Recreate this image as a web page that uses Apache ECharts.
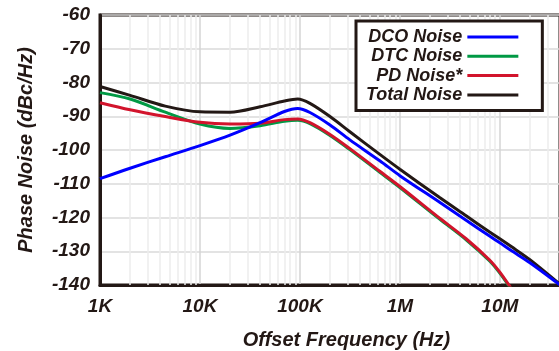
<!DOCTYPE html>
<html><head><meta charset="utf-8">
<script src="https://cdn.jsdelivr.net/npm/echarts@6/dist/echarts.min.js"></script>
<style>html,body{margin:0;padding:0;background:#fff;overflow:hidden;}#c{width:559px;height:351px;}</style>
</head><body><div id="c"></div>
<script>
// Offset frequencies (Hz)
const freqs = [1e3, 2e3, 4.5e3, 1e4, 2e4, 4e4, 7e4, 9.5e4, 1.26e5, 2e5, 3.16e5, 6.3e5, 1e6, 2.5e6, 4.6e6, 7.9e6, 1e7, 1.3e7, 2e7, 4e7];
// Phase noise (dBc/Hz)
const dcoNoise   = [-108.5, -105.4, -102.0, -98.7, -95.6, -91.9, -88.6, -87.7, -88.9, -92.6, -97.0, -103.2, -107.6, -115.5, -120.8, -125.5, -127.5, -129.8, -133.4, -140.0];
const dtcNoise   = [-83.0, -84.9, -88.8, -92.3, -93.6, -92.8, -91.5, -91.2, -92.2, -95.7, -99.9, -106.6, -111.1, -120.5, -126.6, -132.9, -136.5, -141.3, null, null];
const pdNoise    = [-86.0, -88.1, -90.1, -91.8, -92.3, -92.1, -91.0, -90.8, -91.9, -95.4, -99.6, -106.3, -110.8, -120.2, -126.3, -132.6, -136.2, -141.0, null, null];
const totalNoise = [-81.2, -83.8, -87.0, -88.7, -88.8, -87.2, -85.5, -84.9, -86.2, -90.1, -94.6, -101.3, -105.7, -114.1, -119.5, -124.3, -126.3, -128.6, -132.5, -139.8];
const seriesNames = ['DCO Noise', 'DTC Noise', 'PD Noise*', 'Total Noise'];
const seriesColors = ['#0000ff', '#009944', '#d2142c', '#231815'];
const xTickLabels = ['1K', '10K', '100K', '1M', '10M']; // 1e3 .. 1e7
const xMin = 1e3, xMax = 4e7;
const yMin = -140, yMax = -60, yStep = 10;

const minorGridFreqs = [];
for (let d = 3; d <= 7; d++) for (let m = 2; m <= 9; m++) {
  const f = m * Math.pow(10, d);
  if (f < xMax) minorGridFreqs.push(f);
}

const font = 'Liberation Sans, Arial, sans-serif';
const ink = '#231815';
const toPairs = arr => freqs.map((f, i) => [f, arr[i]]).filter(p => p[1] !== null);
const valueSets = [dcoNoise, dtcNoise, pdNoise, totalNoise];
const zOrder = [6, 3, 4, 5];

const series = valueSets.map((vals, i) => ({
  name: seriesNames[i],
  type: 'line',
  data: toPairs(vals),
  smooth: 0.3,
  symbol: 'none',
  clip: true,
  z: zOrder[i],
  lineStyle: { color: seriesColors[i], width: 3, type: 'solid' },
  itemStyle: { color: seriesColors[i] }
}));
series.push({
  name: 'minorGrid', type: 'line', data: [], z: 1, silent: true,
  markLine: {
    z: 1, silent: true, symbol: 'none', label: { show: false },
    lineStyle: { color: '#ececec', width: 1.5, type: 'solid' },
    data: minorGridFreqs.map(f => ({ xAxis: f }))
  }
});

const chart = echarts.init(document.getElementById('c'), null, { renderer: 'canvas' });
chart.setOption({
  animation: false,
  backgroundColor: '#fff',
  grid: { left: 100, top: 15, width: 460, height: 270, outerBoundsMode: 'none', containLabel: false, show: true, borderColor: ink, borderWidth: 3, backgroundColor: 'transparent' },
  legend: {
    z: 20,
    data: seriesNames.map((n, i) => ({ name: n, icon: 'rect', itemStyle: { color: seriesColors[i] } })),
    orient: 'vertical',
    align: 'right',
    left: 356, top: 21,
    itemWidth: 51, itemHeight: 3, itemGap: 0.3,
    padding: [6.5, 24, 6, 10],
    backgroundColor: '#fff',
    borderColor: ink, borderWidth: 3, borderRadius: 0,
    textStyle: { fontFamily: font, fontSize: 18, fontWeight: 'bold', fontStyle: 'italic', color: ink, lineHeight: 19 }
  },
  xAxis: {
    type: 'log', logBase: 10, min: xMin, max: xMax,
    name: 'Offset Frequency (Hz)', nameLocation: 'middle', nameGap: 45,
    nameTextStyle: { fontFamily: font, fontSize: 20, fontWeight: 'bold', fontStyle: 'italic', color: ink, padding: [0, 0, 0, 33] },
    axisLine: { show: true, lineStyle: { color: ink, width: 3 } },
    axisTick: { show: false },
    axisLabel: {
      margin: 12, showMaxLabel: false,
      fontFamily: font, fontSize: 19, fontWeight: 'bold', fontStyle: 'italic', color: ink,
      formatter: v => { const l = Math.log10(v), r = Math.round(l); return Math.abs(l - r) < 1e-6 && xTickLabels[r - 3] ? xTickLabels[r - 3] : ''; }
    },
    splitLine: { show: true, lineStyle: { color: '#d4d4d4', width: 1.5 } }
  },
  yAxis: {
    type: 'value', min: yMin, max: yMax, interval: yStep,
    name: 'Phase Noise (dBc/Hz)', nameLocation: 'middle', nameGap: 64,
    nameTextStyle: { fontFamily: font, fontSize: 20, fontWeight: 'bold', fontStyle: 'italic', color: ink },
    axisLine: { show: true, lineStyle: { color: ink, width: 3 } },
    axisTick: { show: false },
    axisLabel: { margin: 10, fontFamily: font, fontSize: 19, fontWeight: 'bold', fontStyle: 'italic', color: ink },
    splitLine: { show: true, lineStyle: { color: '#dadada', width: 1.5 } }
  },
  series: series
});
</script></body></html>
